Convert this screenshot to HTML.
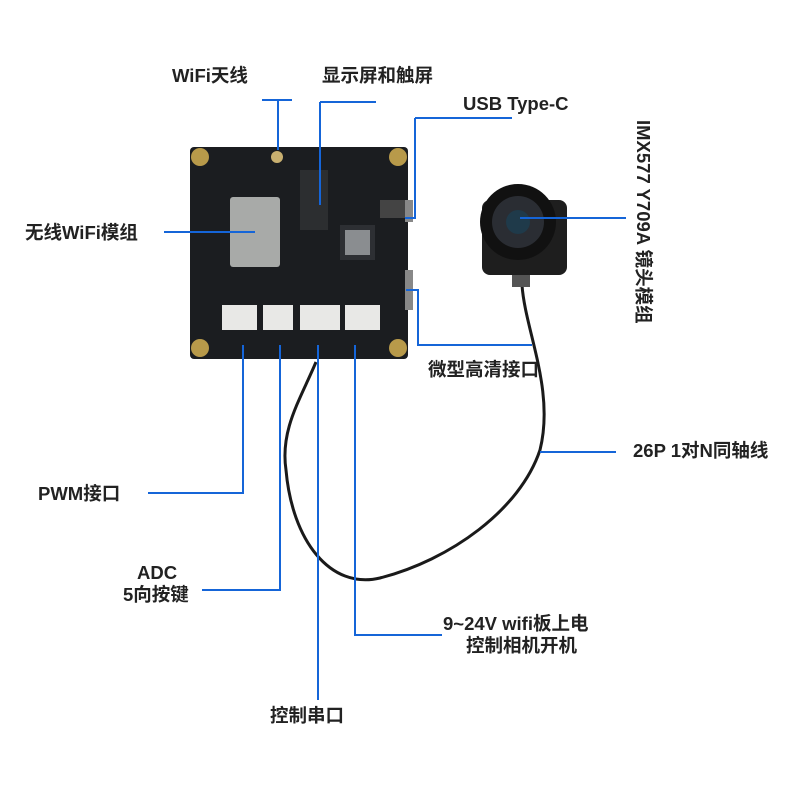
<!DOCTYPE html>
<html><head><meta charset="utf-8"><style>
html,body{margin:0;padding:0;background:#fff;}
svg text{font-family:"Liberation Sans","Noto Sans CJK SC",sans-serif;font-weight:bold;font-size:18.5px;fill:#222;}
</style></head><body>
<svg width="800" height="800" viewBox="0 0 800 800" xmlns="http://www.w3.org/2000/svg">
<path d="M316 362 C 300 400, 280 430, 286 470 C 292 540, 330 590, 380 578 C 450 560, 520 510, 540 450 C 555 390, 525 330, 522 285" fill="none" stroke="#1a1a1a" stroke-width="3"/>
<rect x="190" y="147" width="218" height="212" rx="4" fill="#1b1d20"/>
<rect x="230" y="197" width="50" height="70" rx="3" fill="#a8aaa8"/>
<rect x="300" y="170" width="28" height="60" fill="#2c2e30"/>
<rect x="340" y="225" width="35" height="35" fill="#2d2f33"/>
<rect x="345" y="230" width="25" height="25" fill="#8a8d90"/>
<rect x="380" y="200" width="25" height="18" fill="#444"/>
<rect x="405" y="200" width="8" height="22" fill="#888"/>
<rect x="405" y="270" width="8" height="40" fill="#888"/>
<rect x="222" y="305" width="35" height="25" fill="#e8e8e6"/>
<rect x="263" y="305" width="30" height="25" fill="#e8e8e6"/>
<rect x="300" y="305" width="40" height="25" fill="#e8e8e6"/>
<rect x="345" y="305" width="35" height="25" fill="#e8e8e6"/>
<circle cx="200" cy="157" r="9" fill="#b89a4a"/>
<circle cx="398" cy="157" r="9" fill="#b89a4a"/>
<circle cx="200" cy="348" r="9" fill="#b89a4a"/>
<circle cx="398" cy="348" r="9" fill="#b89a4a"/>
<circle cx="277" cy="157" r="6" fill="#c9b070"/>
<rect x="482" y="200" width="85" height="75" rx="8" fill="#1e1e1e"/>
<circle cx="518" cy="222" r="38" fill="#111"/>
<circle cx="518" cy="222" r="26" fill="#2a2d33"/>
<circle cx="518" cy="222" r="12" fill="#1f3a4a"/>
<rect x="512" y="275" width="18" height="12" fill="#555"/>
<g fill="none" stroke="#1565d8" stroke-width="2">
<path d="M262 100 H292 M278 100 V150"/>
<path d="M320 102 H376 M320 102 V205"/>
<path d="M415 118 H512 M415 118 V218 H405"/>
<path d="M164 232 H255"/>
<path d="M520 218 H626"/>
<path d="M406 290 H418 V345 H532"/>
<path d="M540 452 H616"/>
<path d="M148 493 H243 V345"/>
<path d="M202 590 H280 V345"/>
<path d="M318 345 V700"/>
<path d="M355 345 V635 H442"/>
</g>
<text x="172" y="82">WiFi天线</text>
<text x="322" y="82">显示屏和触屏</text>
<text x="463" y="110">USB Type-C</text>
<text x="25" y="239">无线WiFi模组</text>
<text x="428" y="376">微型高清接口</text>
<text x="633" y="457">26P 1对N同轴线</text>
<text x="38" y="500">PWM接口</text>
<text x="137" y="579">ADC</text>
<text x="123" y="601">5向按键</text>
<text x="443" y="630">9~24V wifi板上电</text>
<text x="466" y="652">控制相机开机</text>
<text x="270" y="722">控制串口</text>
<text x="0" y="0" transform="translate(637 120) rotate(90)">IMX577 Y709A 镜头模组</text>
</svg>
</body></html>
